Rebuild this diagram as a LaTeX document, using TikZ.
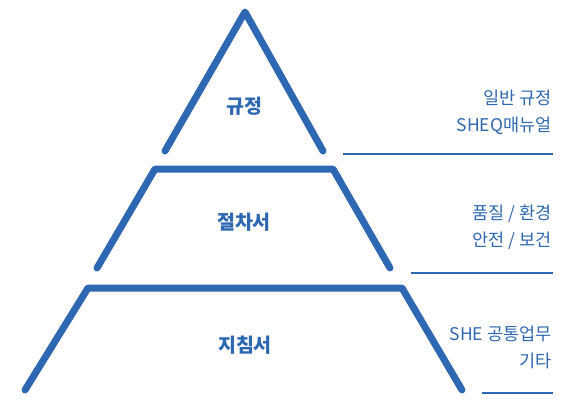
\documentclass[tikz,border=0pt]{standalone}
\usepackage{fontspec}
\setmainfont{Noto Sans CJK KR}
\definecolor{pyrblue}{HTML}{2F68B2}

\begin{document}
\begin{tikzpicture}[x=1pt,y=-1pt,
    tier/.style={draw=pyrblue,line width=7pt,line cap=round,line join=round},
    rule/.style={draw=pyrblue,line width=1.2pt},
    lvl/.style={text=pyrblue,font=\fontsize{19.5}{22}\selectfont\bfseries},
    note/.style={text=pyrblue,font=\fontsize{17.5}{27}\selectfont,align=right,anchor=east}]
    \useasboundingbox (0,0) rectangle (572,399);
    % pyramid
    \draw [tier] (165,151) -- (245,12) -- (323,151);
    \draw [tier] (97,268) -- (155,169) -- (333,169) -- (390,268);
    \draw [tier] (25,390) -- (88,288) -- (402,288) -- (462,390);
    \node [lvl] (R) at (244,106) {규정};
    \node [lvl] (P) at (244,222) {절차서};
    \node [lvl] (G) at (245,345) {지침서};
    % notes on the right
    \node [note] (RN) at (555,112) {일반 규정\\SHEQ매뉴얼};
    \node [note] (PN) at (555,227) {품질 / 환경\\안전 / 보건};
    \node [note] (GN) at (555,347) {SHE 공통업무\\기타};
    \draw [rule] (343,154) -- (553,154);
    \draw [rule] (411,273) -- (553,273);
    \draw [rule] (482,393) -- (553,393);
  \end{tikzpicture}
\end{document}
